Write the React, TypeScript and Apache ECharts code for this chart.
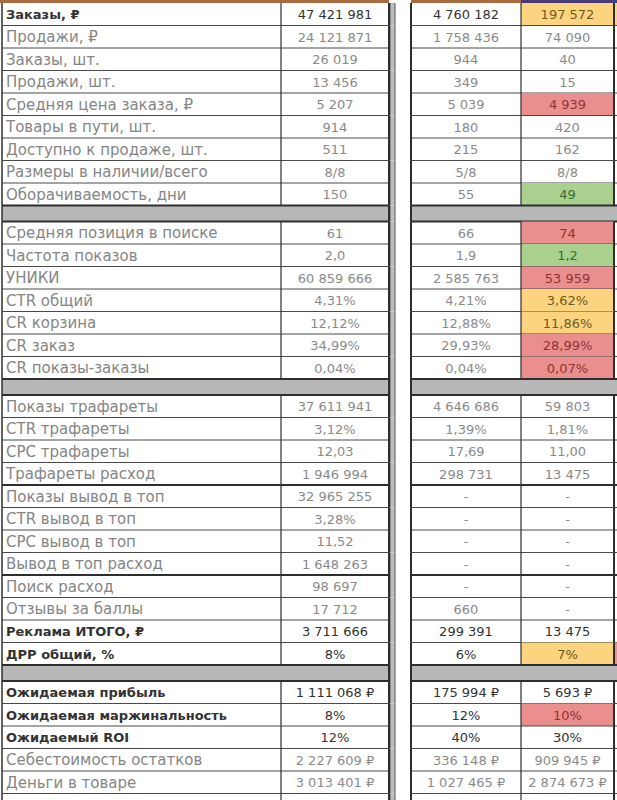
import React, { useEffect, useRef } from "react";
import * as echarts from "echarts";

// ---------- data ----------
const block1Labels = ["Заказы, ₽", "Продажи, ₽", "Заказы, шт.", "Продажи, шт.", "Средняя цена заказа, ₽", "Товары в пути, шт.", "Доступно к продаже, шт.", "Размеры в наличии/всего", "Оборачиваемость, дни"];
const block1Total = ["47 421 981", "24 121 871", "26 019", "13 456", "5 207", "914", "511", "8/8", "150"];
const block1Mid = ["4 760 182", "1 758 436", "944", "349", "5 039", "180", "215", "5/8", "55"];
const block1Last = ["197 572", "74 090", "40", "15", "4 939", "420", "162", "8/8", "49"];
const block1Mark = ["y", "", "", "", "r", "", "", "", "g"];

const block2Labels = ["Средняя позиция в поиске", "Частота показов", "УНИКИ", "CTR общий", "CR корзина", "CR заказ", "CR показы-заказы"];
const block2Total = ["61", "2,0", "60 859 666", "4,31%", "12,12%", "34,99%", "0,04%"];
const block2Mid = ["66", "1,9", "2 585 763", "4,21%", "12,88%", "29,93%", "0,04%"];
const block2Last = ["74", "1,2", "53 959", "3,62%", "11,86%", "28,99%", "0,07%"];
const block2Mark = ["r", "g", "r", "y", "y", "r", "r"];

const block3Labels = ["Показы трафареты", "CTR трафареты", "CPC трафареты", "Трафареты расход", "Показы вывод в топ", "CTR вывод в топ", "CPC вывод в топ", "Вывод в топ расход", "Поиск расход", "Отзывы за баллы", "Реклама ИТОГО, ₽", "ДРР общий, %"];
const block3Total = ["37 611 941", "3,12%", "12,03", "1 946 994", "32 965 255", "3,28%", "11,52", "1 648 263", "98 697", "17 712", "3 711 666", "8%"];
const block3Mid = ["4 646 686", "1,39%", "17,69", "298 731", "-", "-", "-", "-", "-", "660", "299 391", "6%"];
const block3Last = ["59 803", "1,81%", "11,00", "13 475", "-", "-", "-", "-", "-", "-", "13 475", "7%"];
const block3Mark = ["", "", "", "", "", "", "", "", "", "", "", "y"];

const block4Labels = ["Ожидаемая прибыль", "Ожидаемая маржинальность", "Ожидаемый ROI", "Себестоимость остатков", "Деньги в товаре", ""];
const block4Total = ["1 111 068 ₽", "8%", "12%", "2 227 609 ₽", "3 013 401 ₽", ""];
const block4Mid = ["175 994 ₽", "12%", "40%", "336 148 ₽", "1 027 465 ₽", ""];
const block4Last = ["5 693 ₽", "10%", "30%", "909 945 ₽", "2 874 673 ₽", ""];
const block4Mark = ["", "r", "", "", "", ""];

const boldRows = ["Заказы, ₽", "Реклама ИТОГО, ₽", "ДРР общий, %", "Ожидаемая прибыль", "Ожидаемая маржинальность", "Ожидаемый ROI"];
const thickAfter = ["Трафареты расход", "Вывод в топ расход"];
const nextColMark = { "ДРР общий, %": "r", "Заказы, ₽": "y" } as Record<string, string>;

// ---------- layout / style ----------
const W = 617;
const H = 800;
const TOP = 3;
const ROW_H = 22.5;
const SEP_H = 16;
const X = { l: 2, c12: 281, r2: 389, sL: 390, sR: 395, l3: 411, c34: 521, r4: 614, r5: 640 };
const FILL: Record<string, string> = { y: "#fcd47f", r: "#ea8e8e", g: "#a9d08e" };
const INK: Record<string, string> = { y: "#6d5a26", r: "#8f3434", g: "#3d6a2e" };
const SEP_COLOR = "#b8b8b8";
const LINE = "#2e2e2e";
const FONT = "DejaVu Sans";

type Row = {
  kind: "row" | "sep";
  y0: number;
  y1: number;
  label?: string;
  v2?: string;
  v3?: string;
  v4?: string;
  mark?: string;
};

function buildRows(): Row[] {
  const rows: Row[] = [];
  let y = TOP;
  const blocks = [
    [block1Labels, block1Total, block1Mid, block1Last, block1Mark],
    [block2Labels, block2Total, block2Mid, block2Last, block2Mark],
    [block3Labels, block3Total, block3Mid, block3Last, block3Mark],
    [block4Labels, block4Total, block4Mid, block4Last, block4Mark],
  ];
  blocks.forEach((b, bi) => {
    if (bi > 0) {
      rows.push({ kind: "sep", y0: y, y1: y + SEP_H });
      y += SEP_H;
    }
    const [labels, t, m, l, mk] = b;
    labels.forEach((lab, i) => {
      rows.push({ kind: "row", y0: y, y1: y + ROW_H, label: lab, v2: t[i], v3: m[i], v4: l[i], mark: mk[i] });
      y += ROW_H;
    });
  });
  return rows;
}

export default function App() {
  const ref = useRef<HTMLDivElement>(null);
  useEffect(() => {
    if (!ref.current) return;
    const chart = echarts.init(ref.current, undefined, { renderer: "svg" });
    const rows = buildRows();
    const option: any = {
      animation: false,
      backgroundColor: "#ffffff",
      grid: { left: 0, right: 0, top: 0, bottom: 0, containLabel: false },
      xAxis: { type: "value", min: 0, max: W, show: false },
      yAxis: { type: "value", min: 0, max: H, inverse: true, show: false },
      series: [
        {
          type: "custom",
          clip: true,
          encode: { x: 0, y: [1, 2] },
          data: rows.map((r, i) => [i, r.y0, r.y1]),
          renderItem: (params: any, api: any) => {
            const r = rows[params.dataIndex];
            const y0 = api.coord([0, api.value(1)])[1];
            const y1 = api.coord([0, api.value(2)])[1];
            const px = (v: number) => api.coord([v, 0])[0];
            const xl = px(X.l), x12 = px(X.c12), xr2 = px(X.r2), xsL = px(X.sL), xsR = px(X.sR);
            const xl3 = px(X.l3), x34 = px(X.c34), xr4 = px(X.r4), xr5 = px(X.r5);
            const children: any[] = [];
            const hline = (a: number, b: number, y: number, w: number, c = LINE) =>
              children.push({ type: "line", shape: { x1: a, y1: y, x2: b, y2: y }, style: { stroke: c, lineWidth: w } });
            const vline = (x: number, w: number, c = LINE) =>
              children.push({ type: "line", shape: { x1: x, y1: y0, x2: x, y2: y1 }, style: { stroke: c, lineWidth: w } });
            const rect = (a: number, b: number, fill: string) =>
              children.push({ type: "rect", shape: { x: a, y: y0, width: b - a, height: y1 - y0 }, style: { fill } });

            // separator strip between the two tables
            children.push({ type: "rect", shape: { x: xsL, y: y0, width: xsR - xsL, height: y1 - y0 }, style: { fill: "#bdbdbd" } });
            vline(xsL, 1, "#555");
            vline(xsR, 1, "#555");

            if (r.kind === "sep") {
              rect(xl, xr2, SEP_COLOR);
              rect(xl3, xr5, SEP_COLOR);
              hline(xl, xr2, y0, 2);
              hline(xl3, xr5, y0, 2);
              hline(xl, xr2, y1, 2);
              hline(xl3, xr5, y1, 2);
              vline(xl, 1.5);
              vline(xr2, 2);
              vline(xl3, 2);
              return { type: "group", children };
            }

            const bold = boldRows.indexOf(r.label || "") >= 0;
            const mk = r.mark || "";
            if (mk) rect(x34, xr4, FILL[mk]);
            const nm = nextColMark[r.label || ""];
            if (nm) rect(xr4, xr5, FILL[nm]);

            const ym = (y0 + y1) / 2 + 0.5;
            const txtColor = bold ? "#333333" : "#8a8a8a";
            const lblColor = bold ? "#333333" : "#858585";
            if (r.label) {
              children.push({
                type: "text",
                style: { text: r.label, x: xl + 4, y: ym, align: "left", verticalAlign: "middle", fill: lblColor, fontSize: bold ? 13 : 15, fontFamily: FONT, fontWeight: bold ? "bold" : "normal" },
              });
            }
            const cell = (text: string | undefined, a: number, b: number, color: string) => {
              if (!text) return;
              children.push({
                type: "text",
                style: { text, x: (a + b) / 2, y: ym, align: "center", verticalAlign: "middle", fill: color, fontSize: 13, fontFamily: FONT, fontWeight: "normal" },
              });
            };
            cell(r.v2, x12, xr2, txtColor);
            cell(r.v3, xl3, x34, txtColor);
            cell(r.v4, x34, xr4, mk ? INK[mk] : txtColor);

            // row borders
            const firstRow = params.dataIndex === 0;
            if (firstRow) {
              hline(0, xr2, y0 - 1.5, 3, "#a86a3e");
              hline(xl3, x34, y0 - 1.5, 3, "#a86a3e");
              hline(x34, xr5, y0 - 1.5, 3, "#4a3a78");
            }
            const thick = thickAfter.indexOf(r.label || "") >= 0;
            const lw = thick ? 2 : 1;
            hline(xl, xr2, y1, lw, thick ? LINE : "#4a4a4a");
            hline(xl3, xr5, y1, lw, thick ? LINE : "#4a4a4a");
            vline(xl, 1.5);
            vline(x12, 1.2);
            vline(xr2, 2);
            vline(xl3, 2);
            vline(x34, 1.2);
            vline(xr4, 2);
            return { type: "group", children };
          },
        },
      ],
    };
    chart.setOption(option);
    return () => chart.dispose();
  }, []);
  return <div ref={ref} style={{ position: "fixed", left: 0, top: 0, width: W, height: H }} />;
}
